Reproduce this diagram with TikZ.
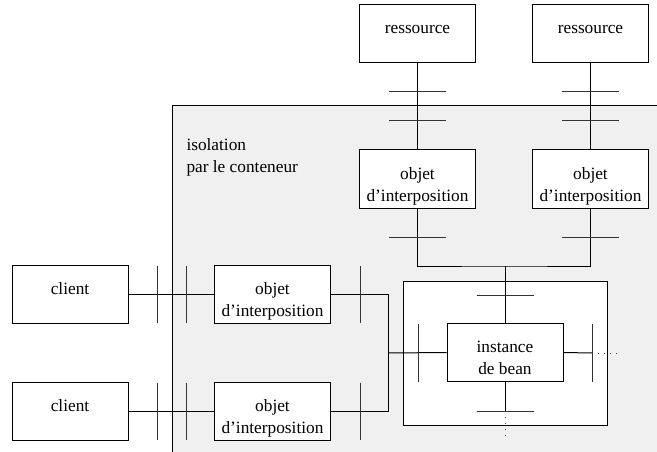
\documentclass[tikz,border=0pt]{standalone}
\usepackage{fontspec}
\setmainfont{Liberation Serif}
\usetikzlibrary{calc}
\definecolor{fondgris}{RGB}{240,240,240}

\begin{document}
\begin{tikzpicture}[x=1pt, y=-1pt, line width=1pt,
  boite/.style={draw, fill=white, minimum width=116pt, minimum height=58pt,
    inner sep=0pt, align=center, font=\fontsize{17.3}{22}\selectfont},
  uneligne/.style={text height=12pt, text depth=12pt},
  deuxlignes/.style={text height=48pt, text depth=4pt},
  coupure/.style={draw=black!80},
  suite/.style={draw=black!70, dash pattern=on 1pt off 5pt}]

  \useasboundingbox (0,0) rectangle (657,452);

  % --- 1. zone d'isolation (fond gris) ---
  \fill[fondgris] (172,106) rectangle (657,452);
  \draw (172,452) -- (172,106) -- (657,106);
  \node[anchor=north west, align=left, inner sep=0pt,
    font=\fontsize{17.3}{22}\selectfont] (isol) at (186,138)
    {isolation\\par le conteneur};

  % --- 2. boites ---
  \node[boite, uneligne] (res1) at (417.5,34) {ressource};
  \node[boite, uneligne] (res2) at (590.5,34) {ressource};
  \node[boite, deuxlignes] (obj1) at (417.5,179) {objet\\d'interposition};
  \node[boite, deuxlignes] (obj2) at (590.5,179) {objet\\d'interposition};

  \node[boite, uneligne] (cli1) at (70,294.5) {client};
  \node[boite, uneligne] (cli2) at (70,411) {client};
  \node[boite, deuxlignes] (objc1) at (272.5,294.5) {objet\\d'interposition};
  \node[boite, deuxlignes] (objc2) at (272.5,411) {objet\\d'interposition};

  \node[draw, fill=white, minimum width=204pt, minimum height=144pt] (cadre) at (505,353) {};
  \node[boite, deuxlignes] (bean) at (505,352.5) {instance\\de bean};

  % --- 3. liaisons ---
  \coordinate (jonction) at (505,266);
  \coordinate (fusion) at (388,353);
  \coordinate (finbas) at (505,411);
  \coordinate (findroite) at (592,353);

  \draw (res1.south) -- (obj1.north);
  \draw (res2.south) -- (obj2.north);
  \draw (obj1.south) |- (jonction) -| (obj2.south);
  \draw (jonction) -- (bean.north);
  \draw (bean.south) -- (finbas);
  \draw[suite] (finbas) -- ++(0,26);
  \draw (bean.east) -- (findroite);
  \draw[suite] (findroite) -- ++(26,0);

  \draw (cli1.east) -- (objc1.west);
  \draw (cli2.east) -- (objc2.west);
  \draw (objc1.east) -| (fusion);
  \draw (objc2.east) -| (fusion);
  \draw (fusion) -- (bean.west);

  % --- 4. coupures ---
  \foreach \ty in {294.5,411}
    \foreach \tx in {157,186,360}
      \draw[coupure] (\tx,\ty-28.5) -- (\tx,\ty+28.5);
  \foreach \tx/\ty in {417.5/92, 417.5/121, 590.5/92, 590.5/121,
                       417.5/237, 590.5/237, 505/295, 505/411}
    \draw[coupure] (\tx-28.5,\ty) -- (\tx+28.5,\ty);
  \foreach \tx in {418,592}
    \draw[coupure] (\tx,324) -- (\tx,382);

\end{tikzpicture}
\end{document}
